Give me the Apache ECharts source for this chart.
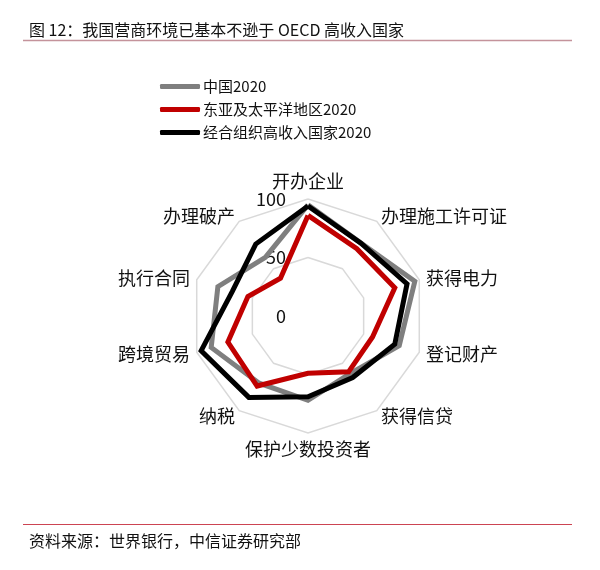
<!DOCTYPE html>
<html><head><meta charset="utf-8">
<script src="https://cdn.jsdelivr.net/npm/echarts@6/dist/echarts.min.js"></script>
<style>html,body{margin:0;padding:0;background:#fff}#c{width:600px;height:570px}</style>
</head><body><div id="c"></div>
<script>
const indicators = ['开办企业','办理施工许可证','获得电力','登记财产','获得信贷','保护少数投资者','纳税','跨境贸易','执行合同','办理破产'];
const seriesNames = ['中国2020','东亚及太平洋地区2020','经合组织高收入国家2020'];
const china = [95,77,96,82,61,72,71,87,81,62];
const eastAsia = [86,71,78,58,59,49,74,72,54,40];
const oecd = [94,77,89,78,65,69,86,96,68,76];
const axisMin = 0, axisMax = 100, axisStep = 50;
const colors = ['#7f7f7f','#c00000','#000000'];
const FONT = 'Noto Sans CJK SC';

// ECharts radar runs counter-clockwise; reorder so the categories run clockwise from the top
const order = indicators.map((_, i) => (indicators.length - i) % indicators.length);
const reorder = arr => order.map(i => arr[i]);

const chart = echarts.init(document.getElementById('c'));
const values = [china, eastAsia, oecd];
chart.setOption({
  backgroundColor: '#fff',
  animation: false,
  title: [
    {text: '图 12：我国营商环境已基本不逊于 OECD 高收入国家', left: 24, top: 17,
     textStyle: {fontFamily: FONT, fontSize: 16, fontWeight: 'normal', color: '#111'}},
    {text: '资料来源：世界银行，中信证券研究部', left: 24, top: 528,
     textStyle: {fontFamily: FONT, fontSize: 16, fontWeight: 'normal', color: '#111'}}
  ],
  graphic: [
    {type: 'line', shape: {x1: 23, y1: 40.5, x2: 572, y2: 40.5}, style: {stroke: '#c4939b', lineWidth: 1.5}},
    {type: 'line', shape: {x1: 23, y1: 524.5, x2: 572, y2: 524.5}, style: {stroke: '#cc4452', lineWidth: 1.2}}
  ],
  legend: {
    orient: 'vertical', left: 155, top: 71, itemWidth: 40, itemHeight: 5, itemGap: 2,
    icon: 'roundRect',
    textStyle: {fontFamily: FONT, fontSize: 15, color: '#111', lineHeight: 21, padding: [0,0,0,-2]},
    data: seriesNames
  },
  radar: {
    center: [308, 316], radius: 117, startAngle: 90, splitNumber: (axisMax - axisMin) / axisStep,
    shape: 'polygon',
    indicator: reorder(indicators).map((n, i) => i === 0 ? {name: n, min: axisMin, max: axisMax}
                                            : {name: n, min: axisMin, max: axisMax, axisLabel: {show: false}}),
    axisName: {fontFamily: FONT, fontSize: 18, color: '#111'},
    nameGap: 7,
    axisLine: {show: false},
    axisTick: {show: false},
    splitArea: {show: false},
    splitLine: {lineStyle: {color: '#d9d9d9', width: 1.5}},
    axisLabel: {show: true, fontFamily: FONT, fontSize: 18, color: '#111', margin: 22}
  },
  series: [{
    type: 'radar',
    symbol: 'none',
    data: seriesNames.map((n, i) => ({
      name: n, value: reorder(values[i]),
      lineStyle: {color: colors[i], width: 5, join: 'miter'},
      itemStyle: {color: colors[i]}
    }))
  }]
});
</script></body></html>
